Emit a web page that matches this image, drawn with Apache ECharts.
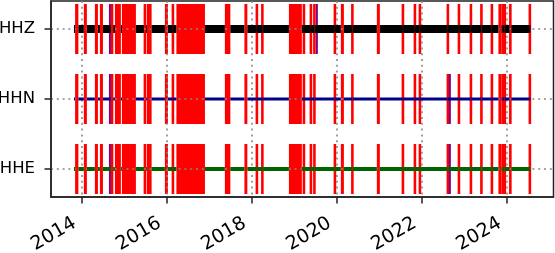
<!DOCTYPE html>
<html><head><meta charset="utf-8">
<script src="https://cdn.jsdelivr.net/npm/echarts@6/dist/echarts.min.js"></script>
<style>html,body{margin:0;padding:0;background:#fff}#c{width:555px;height:253px}</style>
</head><body><div id="c"></div>
<script>
// ---- data ----
const channels = ['HHZ', 'HHN', 'HHE'];
const lineColors = ['#000000', '#00008b', '#006400'];
const tickDates = ['2014-01-01', '2016-01-01', '2018-01-01', '2020-01-01', '2022-01-01', '2024-01-01'];
const axisStart = '2013-04-13';
const axisEnd = '2025-02-04';
const dataStart = '2013-10-27';
const dataEnd = '2024-07-21';
// gaps (shared by all three channels)
const gapStart = ['2013-11-06','2014-01-20','2014-04-25','2014-06-07','2014-09-09','2014-10-14','2014-12-13',
  '2015-06-20','2015-07-15','2015-12-17','2016-02-23','2016-03-25','2017-05-15','2017-10-30','2018-02-13',
  '2018-04-01','2018-11-16','2019-03-24','2019-05-23','2019-06-22','2019-12-15','2020-02-05','2020-05-13',
  '2020-12-10','2021-07-21','2021-11-01','2021-12-14','2022-08-11','2022-11-14','2023-02-25','2023-05-26',
  '2023-08-24','2023-10-20','2023-11-26','2023-12-13','2024-01-22','2024-07-15'];
const gapEnd = ['2013-12-04','2014-02-15','2014-05-21','2014-07-03','2014-09-29','2014-12-04','2015-04-12',
  '2015-07-07','2015-08-25','2016-01-12','2016-02-25','2016-11-25','2017-07-01','2017-11-24','2018-02-15',
  '2018-04-03','2019-03-07','2019-03-26','2019-05-25','2019-06-24','2019-12-17','2020-03-02','2020-05-15',
  '2021-01-05','2021-07-23','2021-11-03','2021-12-16','2022-08-13','2022-11-16','2023-02-27','2023-05-28',
  '2023-08-26','2023-11-16','2023-11-28','2023-12-15','2024-02-08','2024-07-17'];
// overlaps per channel
const overlapsHHZ = ['2014-09-01', '2019-07-14'];
const overlapsHHN = ['2014-09-01', '2022-08-29'];
const overlapsHHE = ['2014-09-01', '2022-08-29'];

// ---- build ----
const DAY = 86400000;
const t = s => new Date(s + 'T00:00:00Z').getTime();
const lineWidths = [8, 3, 4];
const gapItems = [], covItems = [], ovItems = [];
const overlaps = [overlapsHHZ, overlapsHHN, overlapsHHE];
channels.forEach((ch, ci) => {
  let cur = t(dataStart);
  for (let i = 0; i < gapStart.length; i++) {
    gapItems.push([t(gapStart[i]), t(gapEnd[i]), ci]);
    covItems.push([cur, t(gapStart[i]), ci]);
    cur = t(gapEnd[i]);
  }
  covItems.push([cur, t(dataEnd), ci]);
  overlaps[ci].forEach(d => ovItems.push([t(d) - DAY / 2, t(d) + DAY / 2, ci]));
});

function rectRender(color, minW, fixedH) {
  return function (params, api) {
    const y = api.value(2);
    const p0 = api.coord([api.value(0), y]);
    const p1 = api.coord([api.value(1), y]);
    const h = fixedH ? fixedH[y] : api.size([0, 0.714])[1];
    let x = p0[0], w = p1[0] - p0[0];
    if (w < minW) { x = (p0[0] + p1[0]) / 2 - minW / 2; w = minW; }
    return { type: 'rect', shape: { x: x, y: p0[1] - h / 2, width: w, height: h },
      style: { fill: typeof color === 'function' ? color(y) : color } };
  };
}

const ticksMs = tickDates.map(t);
const axisCol = '#222222';
const font = 'DejaVu Sans';
const chart = echarts.init(document.getElementById('c'), null, { renderer: 'canvas' });
chart.setOption({
  animation: false,
  backgroundColor: '#ffffff',
  grid: { left: 51, right: 1.5, top: 1, bottom: 56, outerBoundsMode: 'none', containLabel: false,
    show: true, borderColor: axisCol, borderWidth: 1.5, backgroundColor: 'transparent' },
  xAxis: {
    type: 'value', min: t(axisStart), max: t(axisEnd), z: 1.5,
    axisLine: { show: true, onZero: false, lineStyle: { color: axisCol, width: 1.5 } },
    axisTick: { show: true, length: 6.5, customValues: ticksMs, lineStyle: { color: axisCol, width: 1.5 } },
    axisLabel: { customValues: ticksMs, rotate: 30, margin: 21, padding: [0, 8, 0, 0],
      formatter: v => String(new Date(v).getUTCFullYear()),
      fontFamily: font, fontSize: 19, color: '#000' },
    splitLine: { show: true, lineStyle: { color: '#888', width: 1.6, type: [2, 3.8] } }
  },
  yAxis: {
    type: 'value', inverse: true, min: -0.4, max: 2.4, z: 1.5,
    axisLine: { show: true, onZero: false, lineStyle: { color: axisCol, width: 1.5 } },
    axisTick: { show: true, length: 6.5, customValues: [0, 1, 2], lineStyle: { color: axisCol, width: 1.5 } },
    axisLabel: { customValues: [0, 1, 2], margin: 16, formatter: v => channels[Math.round(v)],
      fontFamily: font, fontSize: 16.5, color: '#000' },
    splitLine: { show: true, lineStyle: { color: '#888', width: 1.6, type: [2, 3.8] } }
  },
  series: [
    { type: 'custom', name: 'gaps', z: 1, data: gapItems, encode: { x: [0, 1], y: 2 },
      renderItem: rectRender('#ff0000', 2.6), clip: true },
    { type: 'custom', name: 'overlaps', z: 1.2, data: ovItems, encode: { x: [0, 1], y: 2 },
      renderItem: rectRender('#800080', 2), clip: true },
    { type: 'custom', name: 'coverage', z: 3, data: covItems, encode: { x: [0, 1], y: 2 },
      renderItem: rectRender(y => lineColors[y], 0, lineWidths), clip: true }
  ]
});
</script></body></html>
